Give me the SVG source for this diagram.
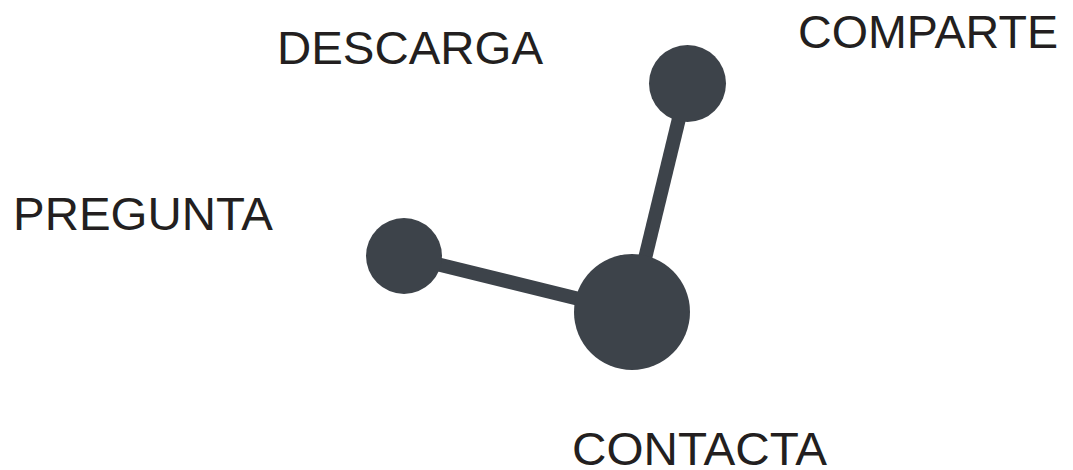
<svg xmlns="http://www.w3.org/2000/svg" width="1073" height="470" viewBox="0 0 1073 470">
<style>
.lbl{font-family:"Liberation Sans",Arial,sans-serif;font-size:47px;fill:#231f20}
.node{fill:#3d434a}
.edge{stroke:#3d434a;stroke-width:14;stroke-linecap:butt}
</style>
<rect width="1073" height="470" fill="#ffffff"/>
<g id="connectors">
<line class="edge" x1="687.5" y1="83.5" x2="632" y2="312"/>
<line class="edge" x1="404" y1="256" x2="632" y2="312"/>
</g>
<g id="node-comparte">
<circle class="node" cx="687.5" cy="83.5" r="38.5"/>
<text class="lbl" x="798" y="48" textLength="260" lengthAdjust="spacingAndGlyphs">COMPARTE</text>
</g>
<g id="node-descarga">
<text class="lbl" x="277" y="64" textLength="266" lengthAdjust="spacingAndGlyphs">DESCARGA</text>
</g>
<g id="node-pregunta">
<circle class="node" cx="404" cy="256" r="38"/>
<text class="lbl" x="13" y="230" textLength="260" lengthAdjust="spacingAndGlyphs">PREGUNTA</text>
</g>
<g id="node-contacta">
<circle class="node" cx="632" cy="312" r="58"/>
<text class="lbl" x="572" y="465" textLength="255" lengthAdjust="spacingAndGlyphs">CONTACTA</text>
</g>
</svg>
